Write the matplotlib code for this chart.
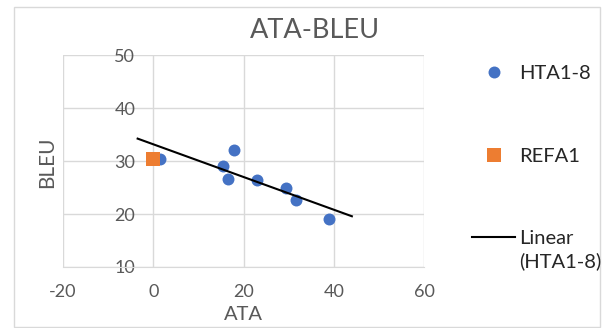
import numpy as np
import matplotlib.pyplot as plt
from matplotlib.lines import Line2D
from matplotlib.patches import Rectangle

plt.rcParams['font.family'] = ['Lato', 'DejaVu Sans']
plt.rcParams['axes.unicode_minus'] = False

# HTA1-8 systems: ATA vs BLEU
hta_ata = [1.55, 15.5, 16.5, 18.0, 23.0, 29.5, 31.6, 39.0]
hta_bleu = [30.3, 29.1, 26.7, 32.1, 26.4, 25.0, 22.7, 19.1]
# reference system
ref_ata = [0.0]
ref_bleu = [30.4]

x_ticks = [-20, 0, 20, 40, 60]
y_ticks = [10, 20, 30, 40, 50]

BLUE = '#4472C4'
ORANGE = '#ED7D31'
GRID = '#D9D9D9'
TXT = '#595959'

fig = plt.figure(figsize=(6.05, 3.28), dpi=100)
fig.patches.append(Rectangle((14 / 605, 1 / 328), 586 / 605, 320 / 328,
                             transform=fig.transFigure, fill=False,
                             edgecolor=GRID, linewidth=1))
ax = fig.add_axes([0.104, 0.186, 0.597, 0.646])

ax.scatter(hta_ata, hta_bleu, s=74, color=BLUE, zorder=3, linewidths=0)
ax.scatter(ref_ata, ref_bleu, s=105, marker='s', color=ORANGE, zorder=4, linewidths=0)

# linear trend with 5 units forecast each way
slope, icpt = np.polyfit(hta_ata, hta_bleu, 1)
tx = np.array([min(hta_ata) - 5, max(hta_ata) + 5])
ax.plot(tx, slope * tx + icpt, color='black', linewidth=1.5, zorder=5)

ax.set_xlim(-20, 60)
ax.set_ylim(10, 50)
ax.set_xticks(x_ticks)
ax.set_yticks(y_ticks)
ax.grid(True, color=GRID, linewidth=1)
ax.set_axisbelow(True)
for s in ['top', 'right']:
    ax.spines[s].set_visible(False)
ax.spines['bottom'].set_color(GRID)
ax.spines['left'].set_position(('data', 0))
ax.spines['left'].set_visible(False)
ax.tick_params(axis='both', length=0, labelsize=13, labelcolor=TXT)
ax.tick_params(axis='y', pad=13)
ax.tick_params(axis='x', pad=12)

# axis titles
fig.text((63 + 424) / 2 / 605, 1 - 314 / 328, 'ATA', fontsize=14.5, color=TXT,
         ha='center', va='center')
fig.text(47 / 605, 1 - 162 / 328, 'BLEU', rotation=90, fontsize=15, color=TXT,
         ha='center', va='center')
ax.set_title('ATA-BLEU', fontsize=19.5, color=TXT, pad=12, x=0.698)

handles = [
    Line2D([], [], marker='o', linestyle='none', color=BLUE, markersize=8.6, markeredgewidth=0),
    Line2D([], [], marker='s', linestyle='none', color=ORANGE, markersize=10.4, markeredgewidth=0),
    Line2D([], [], color='black', linewidth=1.5),
]
leg = fig.legend(handles, ['HTA1-8', 'REFA1', 'Linear'], loc='upper left',
                 bbox_to_anchor=(472 / 605, 1 - 65 / 328), frameon=False, fontsize=14.5,
                 labelspacing=3.25, handlelength=2.15, handletextpad=0.2,
                 borderpad=0, borderaxespad=0)
for t in leg.get_texts():
    t.set_color('#262626')
# wrapped second line of the trendline entry
fig.text(519 / 605, 1 - 261 / 328, '(HTA1-8)', fontsize=14.5, color='#262626',
         ha='left', va='center')

fig.savefig('out.png', dpi=100)
